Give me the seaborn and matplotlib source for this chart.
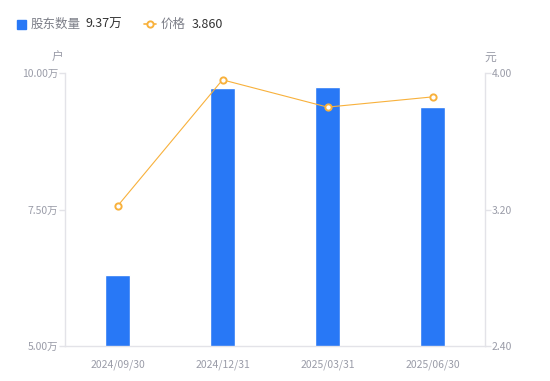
import numpy as np
import pandas as pd
import seaborn as sns
import matplotlib.pyplot as plt
from matplotlib.lines import Line2D
from matplotlib.patches import Rectangle

dates = ["2024/09/30", "2024/12/31", "2025/03/31", "2025/06/30"]
holders = [6.30, 9.73, 9.74, 9.37]      # 万户
price = [3.22, 3.96, 3.80, 3.86]        # 元

left_ticks = [5.0, 7.5, 10.0]
right_ticks = [2.40, 3.20, 4.00]

BLUE = "#2878F6"
ORANGE = "#F8B13C"
GRID = "#E3E3E8"
TICK = "#9A9CA8"

sns.set_theme(style="white")
plt.rcParams["font.family"] = ["Noto Sans CJK SC", "DejaVu Sans"]

df = pd.DataFrame({"date": dates, "holders": holders, "price": price})

fig = plt.figure(figsize=(5.5, 3.81), dpi=100)
ax = fig.add_axes([65 / 550, 1 - 346 / 381, 420 / 550, 273 / 381])

sns.barplot(data=df, x="date", y="holders", color=BLUE, width=0.24,
            saturation=1, ax=ax, zorder=2)
ax.set_ylim(5, 10)
ax.set_xlim(-0.5, 3.5)
ax.set_yticks(left_ticks)
ax.set_yticklabels([f"{v:.2f}万" for v in left_ticks])
ax.set_xlabel("")
ax.set_ylabel("")

ax2 = ax.twinx()
sns.lineplot(x=np.arange(len(dates)), y=df["price"], ax=ax2, color=ORANGE,
             linewidth=0.8, marker="o", markersize=4.5, markerfacecolor="white",
             markeredgecolor=ORANGE, markeredgewidth=1.4, zorder=3)
ax2.set_ylim(2.4, 4.0)
ax2.set_yticks(right_ticks)
ax2.set_yticklabels([f"{v:.2f}" for v in right_ticks])
ax2.set_ylabel("")
ax2.set_xlim(-0.5, 3.5)

for a in (ax, ax2):
    for s in a.spines.values():
        s.set_visible(False)
    a.grid(False)

ax.spines["left"].set_visible(True)
ax.spines["bottom"].set_visible(True)
ax2.spines["right"].set_visible(True)
for s in (ax.spines["left"], ax.spines["bottom"], ax2.spines["right"]):
    s.set_color(GRID)
    s.set_linewidth(1)

ax.tick_params(axis="y", left=True, length=4, width=1, color=GRID,
               labelsize=7.5, labelcolor=TICK, pad=1)
ax.tick_params(axis="x", bottom=False, labelsize=7.5, labelcolor=TICK, pad=4)
ax2.tick_params(axis="y", right=True, length=4, width=1, color=GRID,
                labelsize=7.5, labelcolor=TICK, pad=1)

fig.text(58 / 550, 1 - 57 / 381, "户", fontsize=8.5, color=TICK,
         ha="center", va="center")
fig.text(490 / 550, 1 - 57 / 381, "元", fontsize=8.5, color=TICK,
         ha="center", va="center")

# legend
fig.add_artist(Rectangle((17 / 550, 1 - 29 / 381), 9 / 550, 9 / 381,
                         transform=fig.transFigure, color=BLUE))
fig.text(31 / 550, 1 - 24 / 381, "股东数量", fontsize=9, color="#7C7E88",
         va="center")
fig.text(85 / 550, 1 - 24 / 381, f"{holders[-1]:.2f}万", fontsize=9,
         color="#333333", va="center")
fig.add_artist(Line2D([144 / 550, 156 / 550], [1 - 24 / 381, 1 - 24 / 381],
                      transform=fig.transFigure, color=ORANGE, linewidth=1.2))
fig.add_artist(Line2D([150 / 550], [1 - 24 / 381], transform=fig.transFigure,
                      color=ORANGE, marker="o", markersize=4.5,
                      markerfacecolor="white", markeredgewidth=1.4))
fig.text(161 / 550, 1 - 24 / 381, "价格", fontsize=9, color="#7C7E88",
         va="center")
fig.text(192 / 550, 1 - 24 / 381, f"{price[-1]:.3f}", fontsize=9,
         color="#333333", va="center")

fig.savefig("out.png", dpi=100)
